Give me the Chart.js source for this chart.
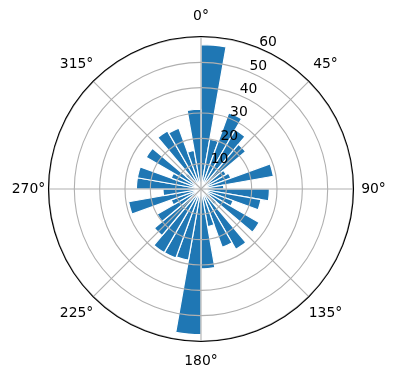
<!DOCTYPE html>
<html>
<head>
<meta charset="utf-8">
<script src="https://cdn.jsdelivr.net/npm/chart.js@4.4.0/dist/chart.umd.min.js"></script>
<style>
  html, body { margin: 0; padding: 0; background: #fff; }
</style>
</head>
<body>
<canvas id="rose" width="396" height="380"></canvas>
<script>
// bar start angles (deg, clockwise from north) and bar heights
const directions = [0, 10, 20, 30, 40, 50, 60, 70, 80, 90, 100, 110,
                    120, 130, 140, 150, 160, 170, 180, 190, 200, 210, 220, 230,
                    240, 250, 260, 270, 280, 290, 300, 310, 320, 330, 340, 350];
const counts = [57, 20, 32, 27, 23, 11.5, 12.5, 29, 9, 27, 24, 13.5,
                26.5, 8, 27.5, 24.5, 15, 31.5, 57.5, 28.5, 29, 29, 24, 20,
                12.5, 29, 15, 25.5, 25.5, 12.5, 25, 8, 26.5, 25.5, 15.5, 31.5];

const angleTicks = [0, 45, 90, 135, 180, 225, 270, 315];
const radialTicks = [10, 20, 30, 40, 50, 60];
const rMax = 60;

const gridColor = "#b0b0b0";
const font = '13.9px "DejaVu Sans"';

// matplotlib style polar grid + labels, drawn on top of the bars
const polarFrame = {
    id: "polarFrame",
    afterDatasetsDraw(chart) {
        const ctx = chart.ctx;
        const r = chart.scales.r;
        const cx = r.xCenter, cy = r.yCenter;
        const R = r.getDistanceFromCenterForValue(rMax);
        ctx.save();
        ctx.lineWidth = 1.1;
        ctx.strokeStyle = gridColor;
        radialTicks.forEach((v) => {
            ctx.beginPath();
            ctx.arc(cx, cy, r.getDistanceFromCenterForValue(v), 0, Math.PI * 2);
            ctx.stroke();
        });
        angleTicks.forEach((a) => {
            const t = (a - 90) * Math.PI / 180;
            ctx.beginPath();
            ctx.moveTo(cx, cy);
            ctx.lineTo(cx + R * Math.cos(t), cy + R * Math.sin(t));
            ctx.stroke();
        });
        // outer spine
        ctx.strokeStyle = "#000";
        ctx.beginPath();
        ctx.arc(cx, cy, R + 0.5, 0, Math.PI * 2);
        ctx.stroke();

        ctx.fillStyle = "#000";
        ctx.font = font;
        // angle labels
        ctx.textAlign = "center";
        ctx.textBaseline = "middle";
        angleTicks.forEach((a) => {
            const t = (a - 90) * Math.PI / 180;
            const d = (a % 90 === 0) ? R + 20.5 : R + 24;
            ctx.fillText(a + "°", cx + d * Math.cos(t), cy + d * Math.sin(t));
        });
        // radial labels at 22.5 deg
        ctx.textAlign = "left";
        ctx.textBaseline = "bottom";
        const t = (22.5 - 90) * Math.PI / 180;
        radialTicks.forEach((v) => {
            const d = r.getDistanceFromCenterForValue(v);
            ctx.fillText(String(v), cx + d * Math.cos(t), cy + d * Math.sin(t) + 1);
        });
        ctx.restore();
    }
};

new Chart(document.getElementById("rose"), {
    type: "polarArea",
    data: {
        labels: directions.map((d) => d + "°"),
        datasets: [{
            data: counts,
            backgroundColor: "#1f77b4",
            borderColor: "#ffffff",
            borderWidth: 1.2
        }]
    },
    options: {
        responsive: false,
        animation: false,
        events: [],
        layout: { padding: { left: 49, right: 43, top: 37, bottom: 39 } },
        plugins: { legend: { display: false }, tooltip: { enabled: false } },
        scales: {
            r: {
                min: 0,
                max: rMax,
                startAngle: 0,
                ticks: { display: false, stepSize: 10 },
                grid: { display: false },
                angleLines: { display: false },
                pointLabels: { display: false }
            }
        }
    },
    plugins: [polarFrame]
});
</script>
</body>
</html>
